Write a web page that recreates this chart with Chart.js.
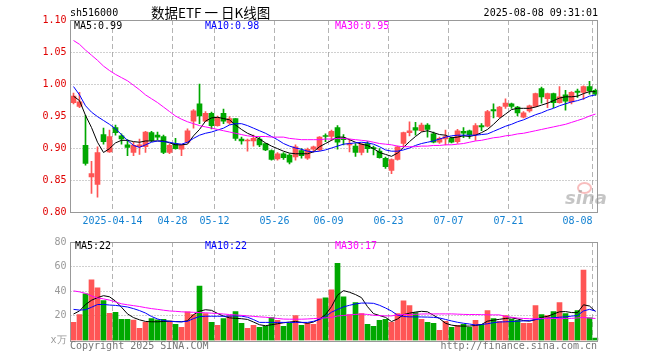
<!DOCTYPE html>
<html>
<head>
<meta charset="utf-8">
<title>数据ETF 日K线图</title>
<script src="https://cdn.jsdelivr.net/npm/chart.js@4.4.1/dist/chart.umd.min.js"></script>
<style>
  html, body { margin: 0; padding: 0; background: #fff; }
  #wrap { position: relative; width: 660px; height: 360px; overflow: hidden; }
  #wrap canvas { position: absolute; left: 0; }
  .txt { position: absolute; white-space: pre; font: 10px "DejaVu Sans Mono", monospace; line-height: 12px; }
</style>
</head>
<body>
<div id="wrap">
  <canvas id="kline" width="660" height="232" style="top:0"></canvas>
  <canvas id="volume" width="660" height="128" style="top:232px"></canvas>

  <div class="txt" style="left:70px;top:7px;color:#000">sh516000</div>
  <div class="txt" style="left:151px;top:4px;font:13.5px 'Noto Sans CJK SC',sans-serif;line-height:16px;color:#000">数据ETF 一 日K线图</div>
  <div class="txt" style="right:62px;top:7px;color:#000">2025-08-08 09:31:01</div>

  <div class="txt" style="left:74px;top:20px;color:#000">MA5:0.99</div>
  <div class="txt" style="left:205px;top:20px;color:#0000ff">MA10:0.98</div>
  <div class="txt" style="left:335px;top:20px;color:#ff00ff">MA30:0.95</div>

  <div class="txt" style="left:75px;top:240px;color:#000">MA5:22</div>
  <div class="txt" style="left:205px;top:240px;color:#0000ff">MA10:22</div>
  <div class="txt" style="left:335px;top:240px;color:#ff00ff">MA30:17</div>

  <div style="position:absolute;left:577px;top:182px;width:11px;height:8px;border:2px solid rgba(240,110,110,0.45);border-radius:50%"></div>
  <div class="txt" style="left:565px;top:189px;font:italic bold 18px 'DejaVu Sans',sans-serif;line-height:18px;color:rgba(150,150,150,0.55)">sina</div>

  <div class="txt" style="left:70px;top:340px;color:#777">Copyright 2025 SINA.COM</div>
  <div class="txt" style="right:63px;top:340px;color:#777">http://finance.sina.com.cn</div>
</div>

<script>
// trading days shown, 2025-04-02 .. 2025-08-08
const dates = [
  "04-02","04-03","04-07","04-08","04-09","04-10","04-11","04-14","04-15","04-16",
  "04-17","04-18","04-21","04-22","04-23","04-24","04-25","04-28","04-29","04-30",
  "05-06","05-07","05-08","05-09","05-12","05-13","05-14","05-15","05-16","05-19",
  "05-20","05-21","05-22","05-23","05-26","05-27","05-28","05-29","05-30","06-03",
  "06-04","06-05","06-06","06-09","06-10","06-11","06-12","06-13","06-16","06-17",
  "06-18","06-19","06-20","06-23","06-24","06-25","06-26","06-27","06-30","07-01",
  "07-02","07-03","07-04","07-07","07-08","07-09","07-10","07-11","07-14","07-15",
  "07-16","07-17","07-18","07-21","07-22","07-23","07-24","07-25","07-28","07-29",
  "07-30","07-31","08-01","08-04","08-05","08-06","08-07","08-08"
];

const tickDates  = ["04-14", "04-28", "05-12", "05-26", "06-09", "06-23", "07-07", "07-21", "08-08"];
const tickLabels = ["2025-04-14", "04-28", "05-12", "05-26", "06-09", "06-23", "07-07", "07-21", "08-08"];
const priceTicks = [0.85, 0.90, 0.95, 1.00, 1.05];
const volTicks = [20, 40, 60];

const opens = [
  .971,.965,.904,.855,.843,.921,.894,.932,.919,.905,
  .893,.902,.902,.924,.920,.918,.893,.907,.898,.909,
  .942,.969,.942,.954,.935,.954,.939,.946,.914,.911,
  .911,.914,.907,.896,.883,.891,.889,.886,.896,.884,
  .898,.897,.919,.918,.932,.916,.905,.903,.893,.907,
  .9005,.895,.884,.865,.882,.907,.924,.932,.927,.936,
  .922,.909,.914,.915,.910,.926,.927,.921,.935,.934,
  .960,.949,.965,.969,.964,.948,.958,.965,.993,.977,
  .985,.971,.983,.972,.989,.987,.996,.990
];
const highs = [
  .986,.987,.951,.879,.902,.931,.928,.936,.922,.913,
  .909,.914,.926,.926,.925,.920,.906,.915,.905,.930,
  .960,1.000,.957,.956,.950,.961,.949,.946,.917,.914,
  .920,.917,.907,.897,.893,.893,.891,.905,.899,.900,
  .903,.918,.922,.928,.935,.921,.914,.907,.907,.910,
  .903,.899,.886,.883,.903,.925,.941,.940,.939,.938,
  .925,.917,.928,.917,.929,.932,.928,.938,.938,.959,
  .969,.965,.977,.970,.965,.957,.967,.986,.995,.986,
  .986,.996,.990,.988,.992,.997,1.004,.992
];
const lows = [
  .969,.963,.873,.829,.823,.906,.893,.920,.906,.888,
  .888,.890,.893,.910,.913,.891,.891,.898,.888,.908,
  .931,.938,.941,.930,.934,.938,.937,.912,.906,.895,
  .903,.902,.896,.881,.881,.882,.875,.881,.884,.882,
  .894,.896,.910,.912,.898,.905,.894,.887,.889,.893,
  .889,.884,.868,.860,.881,.902,.919,.920,.926,.917,
  .908,.907,.905,.908,.907,.916,.915,.912,.927,.933,
  .947,.947,.962,.962,.950,.947,.956,.964,.970,.963,
  .963,.970,.959,.969,.979,.976,.984,.982
];
const closes = [
  .981,.972,.876,.860,.893,.910,.918,.924,.914,.901,
  .904,.905,.925,.912,.917,.893,.904,.899,.905,.927,
  .958,.950,.954,.935,.948,.942,.946,.915,.911,.9125,
  .915,.905,.897,.882,.891,.885,.878,.902,.888,.898,
  .902,.917,.918,.926,.909,.913,.907,.893,.906,.899,
  .899,.885,.871,.882,.902,.924,.927,.928,.936,.929,
  .909,.915,.918,.909,.927,.923,.921,.935,.933,.957,
  .958,.964,.970,.965,.955,.955,.966,.985,.980,.985,
  .971,.980,.973,.987,.987,.996,.989,.984
];

// price moving averages as drawn on the reference
const ma5 = [
  .981,.974,.951,.932,.909,.893,.899,.908,.912,.912,
  .910,.909,.911,.911,.911,.911,.908,.905,.905,.906,
  .919,.929,.942,.947,.948,.946,.944,.936,.929,.923,
  .919,.914,.908,.903,.899,.895,.892,.891,.891,.891,
  .894,.902,.907,.912,.917,.917,.913,.909,.906,.904,
  .899,.893,.890,.887,.892,.901,.910,.918,.925,.927,
  .924,.921,.920,.916,.917,.919,.918,.920,.924,.929,
  .937,.946,.953,.960,.962,.962,.962,.964,.967,.970,
  .974,.978,.980,.980,.981,.985,.988,.988
];
const ma10 = [
  .996,.983,.966,.956,.949,.943,.937,.930,.921,.912,
  .904,.901,.905,.909,.911,.910,.909,.907,.906,.909,
  .915,.920,.923,.925,.928,.931,.936,.938,.938,.935,
  .931,.927,.923,.918,.913,.907,.903,.900,.898,.895,
  .894,.895,.897,.900,.903,.906,.907,.908,.909,.908,
  .906,.902,.897,.895,.895,.897,.900,.904,.907,.909,
  .911,.914,.917,.919,.920,.920,.920,.920,.921,.922,
  .926,.930,.934,.937,.941,.944,.948,.952,.955,.959,
  .962,.966,.969,.972,.974,.977,.981,.983
];
const ma30 = [
  1.068,1.062,1.053,1.045,1.037,1.028,1.021,1.015,1.010,1.005,
  .998,.991,.983,.977,.971,.964,.957,.950,.945,.941,
  .938,.935,.933,.931,.929,.927,.925,.923,.921,.919,
  .918,.918,.918,.917,.917,.917,.915,.914,.913,.913,
  .913,.913,.914,.914,.915,.915,.914,.913,.912,.911,
  .909,.907,.906,.905,.903,.902,.902,.902,.903,.903,
  .904,.904,.905,.905,.906,.907,.909,.911,.912,.914,
  .916,.917,.919,.920,.922,.923,.925,.927,.929,.931,
  .933,.935,.937,.940,.943,.946,.950,.953
];

// volume (10k lots) and its moving averages
const volumes = [
  14.8,21.1,37.9,49.2,42.8,32.4,22.0,22.8,17.1,17.1,
  16.5,9.9,14.8,17.9,16.8,17.1,15.7,13.1,10.7,23.2,
  21.1,44.3,21.9,14.7,12.3,17.9,20.3,23.5,13.9,9.9,
  12.3,10.7,11.5,18.7,16.3,11.5,13.9,20.3,12.3,13.9,
  13.1,33.9,34.7,41.1,62.7,35.5,21.1,30.7,21.9,13.1,
  11.5,16.3,17.1,14.7,21.9,32.3,28.3,22.7,17.1,14.7,
  13.9,8.3,15.5,10.7,12.3,13.1,10.7,16.3,13.1,24.3,
  17.9,15.5,20.3,17.1,16.3,13.9,13.9,28.3,21.1,20.3,
  23.5,30.7,21.9,14.7,24.3,57.1,18.4,1.9
];
const volMa5 = [
  21.5,24.0,29.2,32.7,34.8,36.4,35.5,32.0,27.0,21.6,
  18.6,16.8,15.5,15.2,15.2,15.4,15.7,15.4,15.2,16.0,
  21.0,23.8,25.0,24.5,22.0,19.8,18.4,18.0,17.7,17.1,
  15.0,12.8,12.0,12.8,13.6,14.4,15.0,15.5,14.7,14.0,
  15.0,17.5,21.0,27.5,36.8,40.5,39.2,37.3,34.8,27.5,
  21.8,20.3,18.8,15.4,17.5,21.0,22.2,23.1,23.7,23.3,
  20.5,17.8,14.0,12.5,11.8,11.7,11.7,12.2,13.0,15.7,
  16.5,17.2,17.9,18.4,17.5,16.2,15.7,17.0,18.8,19.6,
  21.5,23.3,23.5,22.7,22.6,29.0,28.0,23.5
];
const volMa10 = [
  25.3,24.7,25.0,27.0,29.2,29.3,28.8,28.5,27.9,27.2,
  25.9,24.3,22.3,19.5,17.5,16.2,15.6,15.3,15.2,15.6,
  17.8,19.4,19.7,19.7,19.7,19.7,19.8,20.0,19.8,18.9,
  17.0,14.7,14.7,14.7,14.7,14.7,14.7,14.7,14.7,14.7,
  15.6,17.0,19.5,23.0,25.2,27.3,28.6,29.7,30.4,30.4,
  30.2,28.6,26.4,23.9,20.6,19.5,19.2,19.2,19.1,19.0,
  18.8,18.3,17.1,15.9,14.8,14.0,13.4,12.6,13.0,13.6,
  14.5,15.0,15.2,15.4,15.7,15.9,16.2,17.0,17.6,18.1,
  18.5,18.9,19.2,19.8,20.3,24.0,25.3,24.0
];
const volMa30 = [
  40.3,39.5,38.3,36.2,34.5,33.8,32.8,31.3,29.8,29.0,
  28.3,27.6,26.7,25.9,25.3,24.6,24.0,23.7,23.3,23.1,
  22.9,22.7,22.5,22.2,21.9,21.5,21.1,20.8,20.4,20.0,
  19.6,19.2,18.9,18.4,17.9,17.4,17.3,17.3,17.3,17.5,
  17.8,18.1,18.4,18.7,19.9,20.3,20.8,21.2,21.5,21.2,
  20.5,20.2,20.0,20.0,20.8,21.1,21.1,21.3,21.5,21.6,
  21.6,21.6,21.6,21.6,21.4,21.2,21.1,21.1,21.0,20.9,
  20.8,20.8,19.6,18.9,18.2,17.9,17.7,17.7,17.8,17.9,
  17.9,17.9,17.9,18.0,18.3,18.8,18.2,17.9
];

const RED = "#ff5555";
const GREEN = "#00a800";
const MONO = "DejaVu Sans Mono";

const candleColors = closes.map((c, i) => (c >= opens[i] ? RED : GREEN));

// dashed date lines, dotted value lines and the grey frame, placed through the scales
const guidesPlugin = {
  id: "guides",
  beforeDatasetsDraw(chart, args, opts) {
    const { ctx, chartArea: a, scales: { x, y } } = chart;
    const half = (x.getPixelForValue(1) - x.getPixelForValue(0)) / 2;
    ctx.save();
    ctx.lineWidth = 1;
    ctx.strokeStyle = "#b4b4b4";
    ctx.setLineDash([5, 3]);
    tickDates.forEach(d => {
      const px = Math.floor(x.getPixelForValue(dates.indexOf(d)) - half) + 0.5;
      ctx.beginPath();
      ctx.moveTo(px, a.top);
      ctx.lineTo(px, a.bottom);
      ctx.stroke();
    });
    ctx.strokeStyle = "#a0a0a0";
    ctx.setLineDash([1, 2]);
    opts.values.forEach(v => {
      const py = Math.floor(y.getPixelForValue(v)) + 0.5;
      ctx.beginPath();
      ctx.moveTo(a.left, py);
      ctx.lineTo(a.right, py);
      ctx.stroke();
    });
    ctx.restore();
  },
  afterDraw(chart) {
    const { ctx, chartArea: a } = chart;
    ctx.save();
    ctx.strokeStyle = "#999";
    ctx.lineWidth = 1;
    ctx.strokeRect(Math.floor(a.left) + 0.5, Math.floor(a.top) + 0.5,
      Math.round(a.right - a.left) - 1, Math.round(a.bottom - a.top));
    ctx.restore();
  }
};

const dateAxis = (showLabels, height) => ({
  type: "category",
  offset: true,
  afterFit: s => { s.height = height; },
  grid: { display: false, drawTicks: false },
  border: { display: false },
  ticks: {
    display: showLabels,
    autoSkip: false,
    maxRotation: 0,
    minRotation: 0,
    padding: 3,
    labelOffset: -3,
    color: "#1482d2",
    font: { family: MONO, size: 10 },
    callback: (v, i) => {
      const k = tickDates.indexOf(dates[i]);
      if (k < 0) return "";
      // last label sits left of its grid line, like the original
      return i === dates.length - 1 ? tickLabels[k] + "     " : tickLabels[k];
    }
  }
});

const maLine = (data, color) => ({
  type: "line",
  data: data,
  borderColor: color,
  borderWidth: 1,
  pointRadius: 0,
  tension: 0,
  order: 0
});

new Chart(document.getElementById("kline").getContext("2d"), {
  type: "bar",
  data: {
    labels: dates,
    datasets: [
      maLine(ma30, "#ff00ff"),
      maLine(ma10, "#0000ff"),
      maLine(ma5, "#000000"),
      {
        data: opens.map((o, i) => [o, closes[i]]),
        backgroundColor: candleColors,
        barThickness: 5,
        minBarLength: 1,
        grouped: false,
        order: 1
      },
      {
        data: lows.map((l, i) => [l, highs[i]]),
        backgroundColor: candleColors,
        barThickness: 1,
        grouped: false,
        order: 2
      }
    ]
  },
  options: {
    responsive: false,
    animation: false,
    events: [],
    layout: { padding: { top: 20, right: 61.5, left: 0, bottom: 0 } },
    plugins: {
      legend: { display: false },
      tooltip: { enabled: false },
      guides: { values: priceTicks }
    },
    scales: {
      x: dateAxis(true, 20),
      y: {
        min: 0.8,
        max: 1.1,
        afterFit: s => { s.width = 70.5; },
        grid: { display: false, drawTicks: false },
        border: { display: false },
        ticks: {
          stepSize: 0.05,
          padding: 4,
          color: "#e00000",
          font: { family: MONO, size: 10 },
          callback: v => v.toFixed(2)
        }
      }
    }
  },
  plugins: [guidesPlugin]
});

new Chart(document.getElementById("volume").getContext("2d"), {
  type: "bar",
  data: {
    labels: dates,
    datasets: [
      maLine(volMa30, "#ff00ff"),
      maLine(volMa10, "#0000ff"),
      maLine(volMa5, "#000000"),
      {
        data: volumes,
        backgroundColor: candleColors,
        barThickness: 5,
        grouped: false,
        order: 1
      }
    ]
  },
  options: {
    responsive: false,
    animation: false,
    events: [],
    layout: { padding: { top: 8.5, right: 61.5, left: 0, bottom: 0 } },
    plugins: {
      legend: { display: false },
      tooltip: { enabled: false },
      guides: { values: volTicks }
    },
    scales: {
      x: dateAxis(false, 19.5),
      y: {
        min: 0,
        max: 80,
        afterFit: s => { s.width = 70.5; },
        grid: { display: false, drawTicks: false },
        border: { display: false },
        ticks: {
          stepSize: 20,
          padding: 4,
          color: "#999",
          font: { family: MONO, size: 10 },
          callback: v => (v === 0 ? "x万" : String(v))
        }
      }
    }
  },
  plugins: [guidesPlugin]
});
</script>
</body>
</html>
